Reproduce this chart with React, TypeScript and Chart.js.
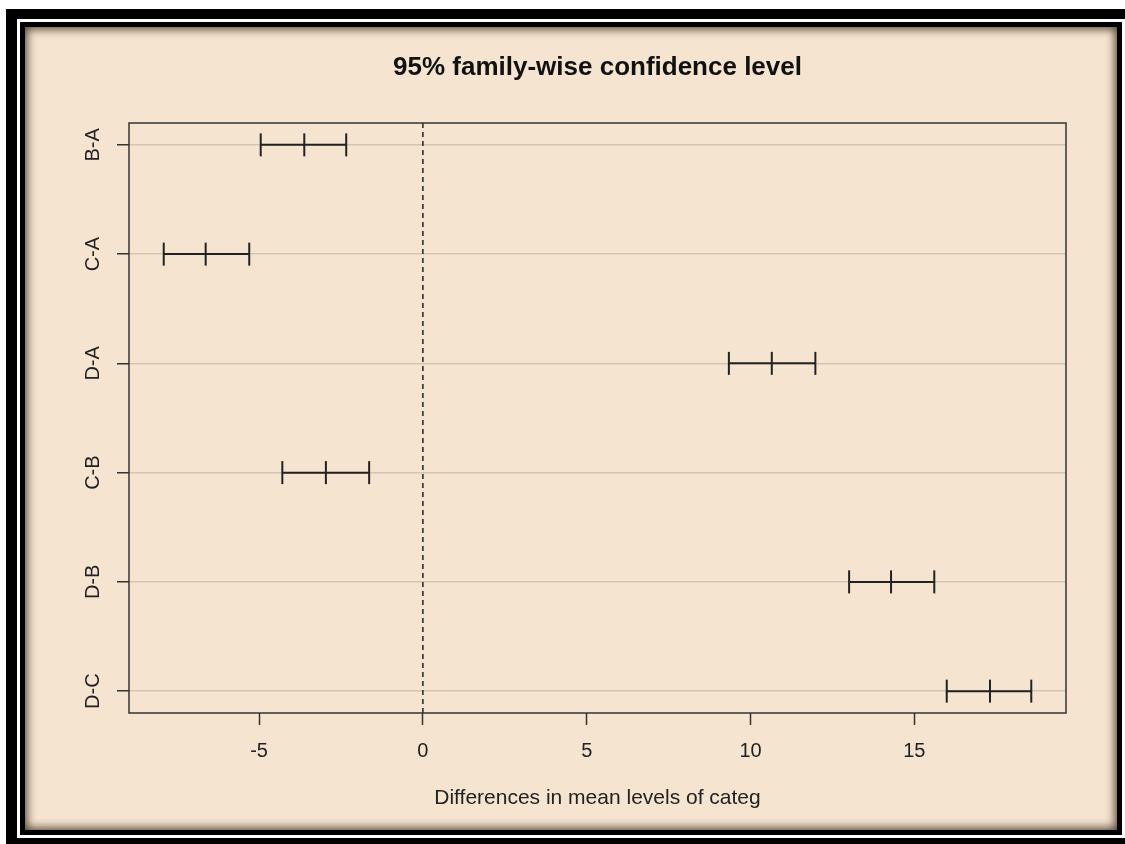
import React, { useEffect, useRef } from "react";
import { Chart, registerables } from "chart.js";

Chart.register(...registerables);

const categories = ["B-A", "C-A", "D-A", "C-B", "D-B", "D-C"];
const lowerValues = [-4.95, -7.91, 9.34, -4.29, 13.01, 15.99];
const centerValues = [-3.62, -6.63, 10.65, -2.96, 14.29, 17.31];
const upperValues = [-2.34, -5.3, 11.98, -1.64, 15.61, 18.57];
const xTickValues = [-5, 0, 5, 10, 15];
const xLimits = [-8.97, 19.63];
const yLimits = [0.8, 6.2];
const titleText = "95% family-wise confidence level";
const xTitleText = "Differences in mean levels of categ";

const FONT = "'Liberation Sans', Arial, Helvetica, sans-serif";
const INK = "#222222";

const plotBox = {
  id: "plotBox",
  afterDatasetsDraw(chart: any) {
    const { ctx, chartArea } = chart;
    ctx.save();
    ctx.strokeStyle = "#333333";
    ctx.lineWidth = 1.5;
    ctx.strokeRect(
      chartArea.left,
      chartArea.top,
      chartArea.right - chartArea.left,
      chartArea.bottom - chartArea.top
    );
    ctx.restore();
  },
};

export default function App() {
  const ref = useRef<HTMLCanvasElement | null>(null);

  useEffect(() => {
    if (!ref.current) return;
    const segmentSets = categories.map((c, i) => ({
      type: "line" as const,
      label: c,
      data: [
        { x: lowerValues[i], y: i + 1 },
        { x: upperValues[i], y: i + 1 },
      ],
      borderColor: INK,
      borderWidth: 2,
      pointRadius: 0,
      fill: false,
    }));
    const tickPoints: { x: number; y: number }[] = [];
    categories.forEach((_, i) => {
      tickPoints.push({ x: lowerValues[i], y: i + 1 });
      tickPoints.push({ x: centerValues[i], y: i + 1 });
      tickPoints.push({ x: upperValues[i], y: i + 1 });
    });

    const chart = new Chart(ref.current, {
      type: "scatter",
      data: {
        datasets: [
          {
            type: "line",
            label: "zero",
            data: [
              { x: 0, y: yLimits[0] },
              { x: 0, y: yLimits[1] },
            ],
            borderColor: INK,
            borderWidth: 1.5,
            borderDash: [5, 4],
            pointRadius: 0,
            fill: false,
          },
          ...segmentSets,
          {
            type: "scatter",
            label: "ticks",
            data: tickPoints,
            pointStyle: "line",
            rotation: 90,
            radius: 11.5,
            borderWidth: 2,
            borderColor: INK,
            backgroundColor: INK,
          },
        ] as any,
      },
      options: {
        animation: false,
        responsive: false,
        events: [],
        layout: { padding: { left: 0, right: 59, top: 0, bottom: 0 } },
        plugins: {
          legend: { display: false },
          tooltip: { enabled: false },
          title: {
            display: true,
            text: titleText,
            fullSize: false,
            color: "#111111",
            font: { family: FONT, size: 26, weight: "bold" },
            padding: { top: 52.5, bottom: 39.3 },
          },
        },
        scales: {
          x: {
            type: "linear",
            position: "bottom",
            min: xLimits[0],
            max: xLimits[1],
            afterBuildTicks: (scale: any) => {
              scale.ticks = xTickValues.map((v) => ({ value: v }));
            },
            afterFit: (scale: any) => {
              scale.height = 131;
            },
            grid: {
              drawOnChartArea: false,
              drawTicks: true,
              tickLength: 12,
              tickColor: "#333333",
              tickWidth: 1.5,
            },
            border: { display: false },
            ticks: {
              autoSkip: false,
              color: INK,
              padding: 14,
              font: { family: FONT, size: 20 },
              callback: (v: any) => String(v),
            },
            title: {
              display: true,
              text: xTitleText,
              color: INK,
              font: { family: FONT, size: 21 },
              padding: { top: 0, bottom: 33 },
            },
          },
          y: {
            type: "linear",
            position: "left",
            min: yLimits[0],
            max: yLimits[1],
            reverse: true,
            afterBuildTicks: (scale: any) => {
              scale.ticks = categories.map((_, i) => ({ value: i + 1 }));
            },
            afterFit: (scale: any) => {
              scale.width = 129;
            },
            grid: {
              drawOnChartArea: true,
              color: "#d3c5b3",
              lineWidth: 1.5,
              drawTicks: true,
              tickLength: 12,
              tickColor: "#333333",
              tickWidth: 1.5,
            },
            border: { display: false },
            ticks: {
              autoSkip: false,
              color: INK,
              minRotation: 90,
              maxRotation: 90,
              crossAlign: "center",
              padding: 6,
              font: { family: FONT, size: 20 },
              callback: (v: any) => categories[Math.round(v) - 1] ?? "",
            },
          },
        },
      },
      plugins: [plotBox],
    } as any);
    return () => chart.destroy();
  }, []);

  return (
    <div
      style={{
        position: "fixed",
        left: 0,
        top: 0,
        width: 1125,
        height: 844,
        background: "#ffffff",
        overflow: "hidden",
      }}
    >
      <div style={{ position: "absolute", left: 6, top: 9, width: 1130, height: 840, background: "#000" }} />
      <div style={{ position: "absolute", left: 17, top: 19, width: 1108, height: 819, background: "#fff" }} />
      <div style={{ position: "absolute", left: 20, top: 22, width: 1102, height: 813, background: "#000" }} />
      <div
        style={{
          position: "absolute",
          left: 25,
          top: 27,
          width: 1092,
          height: 803,
          background: "#f5e4d0",
          boxShadow: "inset 0 0 10px 2px rgba(40,25,10,0.8)",
        }}
      />
      <canvas
        ref={ref}
        width={1125}
        height={844}
        style={{ position: "absolute", left: 0, top: 0, width: 1125, height: 844 }}
      />
    </div>
  );
}
